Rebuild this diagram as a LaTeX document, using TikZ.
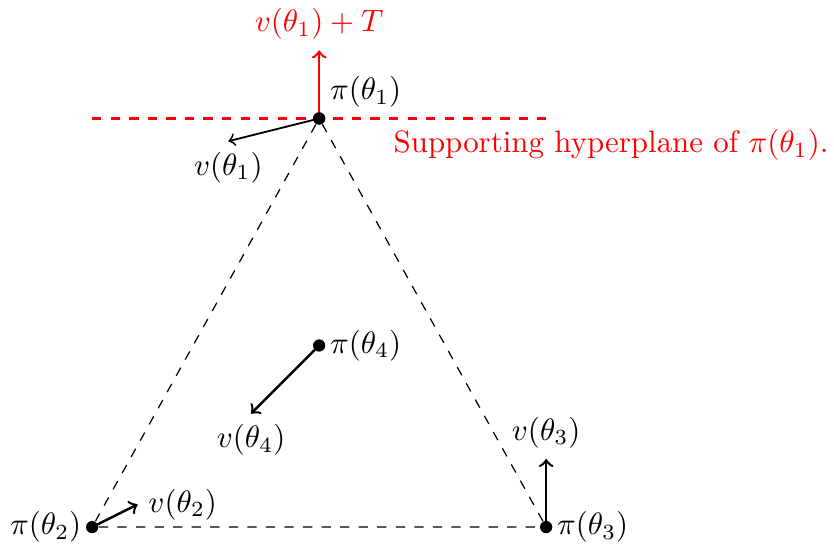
\documentclass[tikz,border=0pt]{standalone}
\usepackage{xcolor}
\usepackage{amsmath}
\begin{document}
\begin{tikzpicture}[x=0.516cm, y=0.516cm, pt/.style={circle, fill, inner sep=1.4pt}]
        \useasboundingbox (-2.03,-0.37) rectangle (16.34,11.61);
        \node[pt] (p1) at (5,9) {};
        \node[pt] (p2) at (0,0) {};
        \node[pt] (p3) at (10,0) {};
        \node[pt] (p4) at (5,4) {};
        \coordinate (h1) at (0,9);
        \coordinate (h2) at (10,9);
        \coordinate (t1) at (5,10.5);
        \coordinate (v1) at (3,8.5);
        \coordinate (v2) at (1,0.5);
        \coordinate (v3) at (10,1.5);
        \coordinate (v4) at (3.5,2.5);
        \draw[red, thick, dashed] (h1) -- (h2);
        \draw[dashed] (p1) -- (p2) -- (p3) -- (p1);
        \draw[red, thick, ->] (p1.center) -- (t1);
        \draw[semithick, ->] (p1.center) -- (v1);
        \draw[thick, ->] (p2.center) -- (v2);
        \draw[thick, ->] (p3.center) -- (v3);
        \draw[thick, ->] (p4.center) -- (v4);
        \node[pt] at (p1) {};
        \node[above right] (l1) at (p1) {$\pi(\theta_1)$};
        \node[left] (l2) at (p2) {$\pi(\theta_2)$};
        \node[right] (l3) at (p3) {$\pi(\theta_3)$};
        \node[right] (l4) at (p4) {$\pi(\theta_4)$};
        \node[above, red] (lt) at (t1) {$v(\theta_1)+T$};
        \node[below] (lv1) at (v1) {$v(\theta_1)$};
        \node[right] (lv2) at (v2) {$v(\theta_2)$};
        \node[above] (lv3) at (v3) {$v(\theta_3)$};
        \node[below] (lv4) at (v4) {$v(\theta_4)$};
        \node[below right, red] (hyp) at (6.4,9) {Supporting hyperplane of $\pi(\theta_1)$.};
    \end{tikzpicture}
\end{document}
